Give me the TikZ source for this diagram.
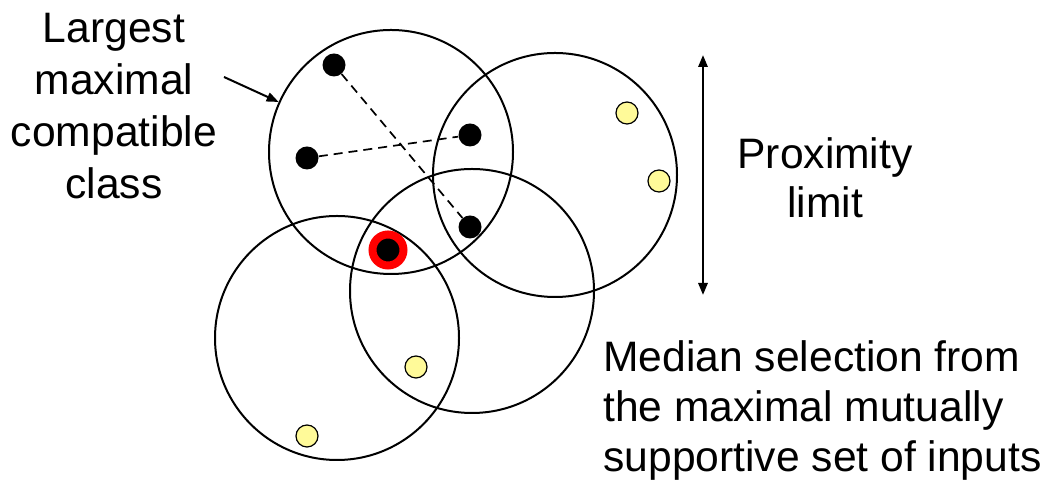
\documentclass[tikz,border=0pt]{standalone}
\usepackage{fontspec}
\setmainfont{Liberation Sans}
\usetikzlibrary{arrows.meta,positioning}

\begin{document}
\begin{tikzpicture}[x=0.5pt,y=-0.5pt,>={Triangle[length=6pt,width=4.6pt]},
  every node/.style={inner sep=0pt,font=\fontsize{21.3}{25.5}\selectfont},
  zone/.style={draw,circle,line width=1pt,minimum size=122pt},
  input/.style={circle,fill=black,minimum size=11.5pt},
  outlier/.style={circle,draw,line width=0.6pt,fill=yellow!40,minimum size=11pt},
  median/.style={circle,draw=red,fill=black,line width=4pt,minimum size=15.5pt}]
\useasboundingbox (0,0) rectangle (1045,490);
\node[zone] (classA) at (391,152) {};
\node[zone] (classB) at (555,175) {};
\node[zone] (classC) at (472,291) {};
\node[zone] (classD) at (337,338) {};
\node[input] (in1) at (334,65) {};
\node[input] (in2) at (307,158) {};
\node[input] (in3) at (470,135) {};
\node[input] (in4) at (470,227) {};
\node[median] (med) at (388,250) {};
\node[outlier] (out1) at (627,113) {};
\node[outlier] (out2) at (659,181) {};
\node[outlier] (out3) at (416,367) {};
\node[outlier] (out4) at (307,436) {};
\draw[dash pattern=on 4.5pt off 3pt,line width=0.85pt] (in1)--(in4);
\draw[dash pattern=on 4.5pt off 3pt,line width=0.85pt] (in2)--(in3);
\node[align=center,anchor=north,font=\fontsize{21.3}{26}\selectfont] (lbl) at (114,13) {Largest\\maximal\\compatible\\class};
\coordinate (tail) at (224,77);
\draw[->,line width=1pt] (tail)--(classA.156);
\coordinate (limtop) at (703,55);
\coordinate (limbot) at (703,295);
\draw[<->,line width=1.2pt] (limtop)--(limbot);
\node[align=center,anchor=north,font=\fontsize{21.3}{24.5}\selectfont] (prox) at (825,137) {Proximity\\limit};
\node[align=left,anchor=north west,font=\fontsize{21.3}{25}\selectfont] (sel) at (603,340) {Median selection from\\the maximal mutually\\supportive set of inputs};
\end{tikzpicture}
\end{document}
